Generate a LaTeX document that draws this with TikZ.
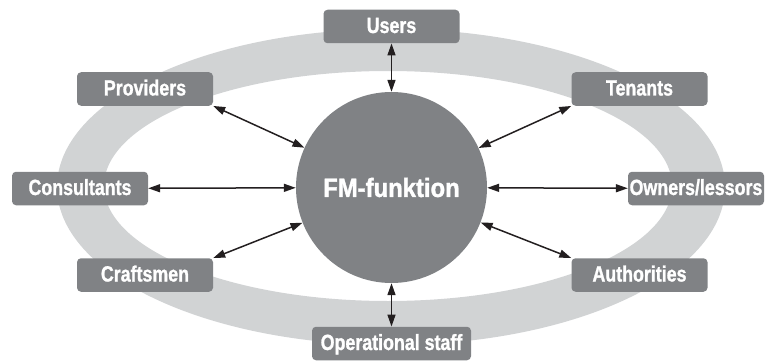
\documentclass[tikz,border=0pt]{standalone}
\usepackage{fontspec}
\setmainfont{Liberation Sans}
\newfontfamily\boxfont[FakeStretch=0.81,FakeBold=1.2]{Liberation Sans}
\newfontfamily\fmfont[FakeStretch=0.9,FakeBold=1.4]{Liberation Sans}
\usetikzlibrary{arrows.meta}
\definecolor{boxgray}{RGB}{128,130,133}
\definecolor{ringgray}{RGB}{209,211,212}
\definecolor{arrowblack}{RGB}{35,31,32}
\tikzset{
  party/.style={rectangle, rounded corners=4pt, fill=boxgray, text=white,
    minimum width=136pt, minimum height=33.5pt, inner sep=0pt,
    text height=16pt, text depth=3pt,
    font=\boxfont\bfseries\fontsize{22}{26}\selectfont},
  hub/.style={circle, fill=boxgray, text=white, minimum size=191pt, inner sep=0pt,
    font=\fmfont\bfseries\fontsize{26.5}{30}\selectfont},
  link/.style={draw=arrowblack, line width=1.5pt,
    {Triangle[length=12pt,width=8pt]}-{Triangle[length=12pt,width=8pt]}}
}
\begin{document}
\begin{tikzpicture}[x=1pt,y=-1pt]
\useasboundingbox (0,0) rectangle (771,361);
% surrounding ring
\fill[ringgray, even odd rule]
  (391,187) ellipse [x radius=334pt, y radius=158pt]
  (388,186) ellipse [x radius=284pt, y radius=115pt];
% central function
\node[hub] (fm) at (391.5,187.5) {FM-funktion};
% stakeholders
\node[party] (users) at (391.5,26.5) {Users};
\node[party] (prov) at (145,89) {Providers};
\node[party] (ten) at (639.5,89) {Tenants};
\node[party] (cons) at (80,188.5) {Consultants};
\node[party] (own) at (696,188.5) {Owners/lessors};
\node[party] (craft) at (145,275) {Craftsmen};
\node[party] (auth) at (639.5,275) {Authorities};
\node[party, minimum width=159pt] (ops) at (391.5,343.5) {Operational staff};
% relations
\draw[link] (users) -- (fm);
\draw[link] (prov.south east) -- (fm);
\draw[link] (ten.south west) -- (fm);
\draw[link] (cons) -- (fm);
\draw[link] (own) -- (fm);
\draw[link] (craft.north east) -- (fm);
\draw[link] (auth.north west) -- (fm);
\draw[link] (ops) -- (fm);
\end{tikzpicture}
\end{document}
